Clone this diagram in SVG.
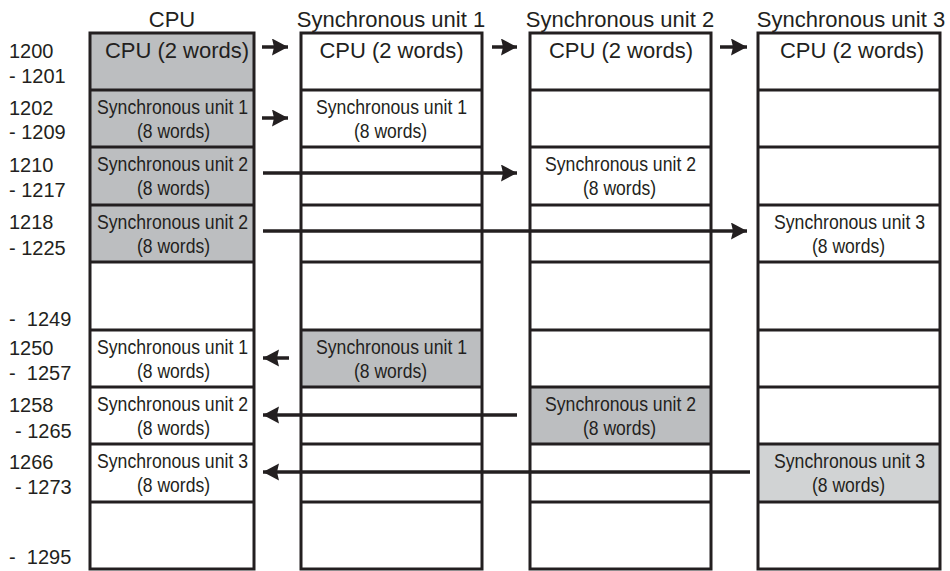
<svg xmlns="http://www.w3.org/2000/svg" width="950" height="571" viewBox="0 0 950 571">
<style>
.bg{fill:#ffffff}
.g1{fill:#bcbec0}
.g2{fill:#d1d3d4}
.box{fill:none;stroke:#231f20;stroke-width:3}
.div{stroke:#231f20;stroke-width:3}
.t{font-family:"Liberation Sans",Arial,sans-serif;fill:#231f20}
.h{font-size:22px;text-anchor:middle}
.c{font-size:22px;text-anchor:middle}
.s{font-size:20px;text-anchor:middle}
.l{font-size:20px;white-space:pre}
.con{stroke:#231f20;stroke-width:3.5;fill:none}
</style>
<defs>
<marker id="ah" markerUnits="userSpaceOnUse" markerWidth="18" markerHeight="18" refX="16" refY="8.5" orient="auto">
<path d="M0,0 L16,8.5 L0,17 L2,8.5 z" fill="#231f20"/>
</marker>
</defs>

<g id="headers" class="t h">
<text x="172" y="27">CPU</text>
<text x="391" y="27">Synchronous unit 1</text>
<text x="620" y="27">Synchronous unit 2</text>
<text x="851" y="27">Synchronous unit 3</text>
</g>

<g id="addresses" class="t l">
<text x="9" y="58">1200</text>
<text x="9" y="83">- 1201</text>
<text x="9" y="115">1202</text>
<text x="9" y="139">- 1209</text>
<text x="9" y="172">1210</text>
<text x="9" y="197">- 1217</text>
<text x="9" y="229">1218</text>
<text x="9" y="255">- 1225</text>
<text x="9" y="326" xml:space="preserve">-  1249</text>
<text x="9" y="355">1250</text>
<text x="9" y="380" xml:space="preserve">-  1257</text>
<text x="9" y="412">1258</text>
<text x="15" y="438">- 1265</text>
<text x="9" y="469">1266</text>
<text x="15" y="494">- 1273</text>
<text x="9" y="564" xml:space="preserve">-  1295</text>
</g>

<g id="cpu">
<rect class="bg" x="90" y="33" width="164" height="536"/>
<rect class="g1" x="90" y="33" width="164" height="229"/>
<g class="div">
<line x1="90" y1="90" x2="254" y2="90"/><line x1="90" y1="147" x2="254" y2="147"/><line x1="90" y1="205" x2="254" y2="205"/><line x1="90" y1="262" x2="254" y2="262"/><line x1="90" y1="330" x2="254" y2="330"/><line x1="90" y1="387" x2="254" y2="387"/><line x1="90" y1="444" x2="254" y2="444"/><line x1="90" y1="502" x2="254" y2="502"/>
</g>
<rect class="box" x="90" y="33" width="164" height="536"/>
<g class="t">
<text class="c" x="177" y="58">CPU (2 words)</text>
<text class="s" x="172.5" y="114" textLength="151" lengthAdjust="spacingAndGlyphs">Synchronous unit 1</text>
<text class="s" x="173.5" y="138" textLength="73" lengthAdjust="spacingAndGlyphs">(8 words)</text>
<text class="s" x="172.5" y="171" textLength="151" lengthAdjust="spacingAndGlyphs">Synchronous unit 2</text>
<text class="s" x="173.5" y="195" textLength="73" lengthAdjust="spacingAndGlyphs">(8 words)</text>
<text class="s" x="172.5" y="229" textLength="151" lengthAdjust="spacingAndGlyphs">Synchronous unit 2</text>
<text class="s" x="173.5" y="253" textLength="73" lengthAdjust="spacingAndGlyphs">(8 words)</text>
<text class="s" x="172.5" y="354" textLength="151" lengthAdjust="spacingAndGlyphs">Synchronous unit 1</text>
<text class="s" x="173.5" y="378" textLength="73" lengthAdjust="spacingAndGlyphs">(8 words)</text>
<text class="s" x="172.5" y="411" textLength="151" lengthAdjust="spacingAndGlyphs">Synchronous unit 2</text>
<text class="s" x="173.5" y="435" textLength="73" lengthAdjust="spacingAndGlyphs">(8 words)</text>
<text class="s" x="172.5" y="468" textLength="151" lengthAdjust="spacingAndGlyphs">Synchronous unit 3</text>
<text class="s" x="173.5" y="492" textLength="73" lengthAdjust="spacingAndGlyphs">(8 words)</text>
</g>
</g>

<g id="unit1">
<rect class="bg" x="301" y="33" width="181" height="536"/>
<rect class="g1" x="301" y="330" width="181" height="57"/>
<g class="div">
<line x1="301" y1="90" x2="482" y2="90"/><line x1="301" y1="147" x2="482" y2="147"/><line x1="301" y1="205" x2="482" y2="205"/><line x1="301" y1="262" x2="482" y2="262"/><line x1="301" y1="330" x2="482" y2="330"/><line x1="301" y1="387" x2="482" y2="387"/><line x1="301" y1="444" x2="482" y2="444"/><line x1="301" y1="502" x2="482" y2="502"/>
</g>
<rect class="box" x="301" y="33" width="181" height="536"/>
<g class="t">
<text class="c" x="391.5" y="58">CPU (2 words)</text>
<text class="s" x="391.5" y="114" textLength="151" lengthAdjust="spacingAndGlyphs">Synchronous unit 1</text>
<text class="s" x="390.5" y="138" textLength="73" lengthAdjust="spacingAndGlyphs">(8 words)</text>
<text class="s" x="391.5" y="354" textLength="151" lengthAdjust="spacingAndGlyphs">Synchronous unit 1</text>
<text class="s" x="390.5" y="378" textLength="73" lengthAdjust="spacingAndGlyphs">(8 words)</text>
</g>
</g>

<g id="unit2">
<rect class="bg" x="530" y="33" width="181" height="536"/>
<rect class="g1" x="530" y="387" width="181" height="57"/>
<g class="div">
<line x1="530" y1="90" x2="711" y2="90"/><line x1="530" y1="147" x2="711" y2="147"/><line x1="530" y1="205" x2="711" y2="205"/><line x1="530" y1="262" x2="711" y2="262"/><line x1="530" y1="330" x2="711" y2="330"/><line x1="530" y1="387" x2="711" y2="387"/><line x1="530" y1="444" x2="711" y2="444"/><line x1="530" y1="502" x2="711" y2="502"/>
</g>
<rect class="box" x="530" y="33" width="181" height="536"/>
<g class="t">
<text class="c" x="621" y="58">CPU (2 words)</text>
<text class="s" x="620.5" y="171" textLength="151" lengthAdjust="spacingAndGlyphs">Synchronous unit 2</text>
<text class="s" x="619.5" y="195" textLength="73" lengthAdjust="spacingAndGlyphs">(8 words)</text>
<text class="s" x="620.5" y="411" textLength="151" lengthAdjust="spacingAndGlyphs">Synchronous unit 2</text>
<text class="s" x="619.5" y="435" textLength="73" lengthAdjust="spacingAndGlyphs">(8 words)</text>
</g>
</g>

<g id="unit3">
<rect class="bg" x="758" y="33" width="182" height="536"/>
<rect class="g2" x="758" y="444" width="182" height="58"/>
<g class="div">
<line x1="758" y1="90" x2="940" y2="90"/><line x1="758" y1="147" x2="940" y2="147"/><line x1="758" y1="205" x2="940" y2="205"/><line x1="758" y1="262" x2="940" y2="262"/><line x1="758" y1="330" x2="940" y2="330"/><line x1="758" y1="387" x2="940" y2="387"/><line x1="758" y1="444" x2="940" y2="444"/><line x1="758" y1="502" x2="940" y2="502"/>
</g>
<rect class="box" x="758" y="33" width="182" height="536"/>
<g class="t">
<text class="c" x="852" y="58">CPU (2 words)</text>
<text class="s" x="849.5" y="229" textLength="151" lengthAdjust="spacingAndGlyphs">Synchronous unit 3</text>
<text class="s" x="848.5" y="253" textLength="73" lengthAdjust="spacingAndGlyphs">(8 words)</text>
<text class="s" x="849.5" y="468" textLength="151" lengthAdjust="spacingAndGlyphs">Synchronous unit 3</text>
<text class="s" x="848.5" y="492" textLength="73" lengthAdjust="spacingAndGlyphs">(8 words)</text>
</g>
</g>

<g id="connectors" class="con">
<line x1="262" y1="47" x2="288" y2="47" marker-end="url(#ah)"/>
<line x1="492" y1="47" x2="517" y2="47" marker-end="url(#ah)"/>
<line x1="720" y1="47" x2="747" y2="47" marker-end="url(#ah)"/>
<line x1="262" y1="118" x2="288" y2="118" marker-end="url(#ah)"/>
<line x1="263" y1="173" x2="517" y2="173" marker-end="url(#ah)"/>
<line x1="263" y1="231" x2="747" y2="231" marker-end="url(#ah)"/>
<line x1="289" y1="358" x2="263" y2="358" marker-end="url(#ah)"/>
<line x1="517" y1="415" x2="263" y2="415" marker-end="url(#ah)"/>
<line x1="750" y1="472" x2="263" y2="472" marker-end="url(#ah)"/>
</g>
</svg>
